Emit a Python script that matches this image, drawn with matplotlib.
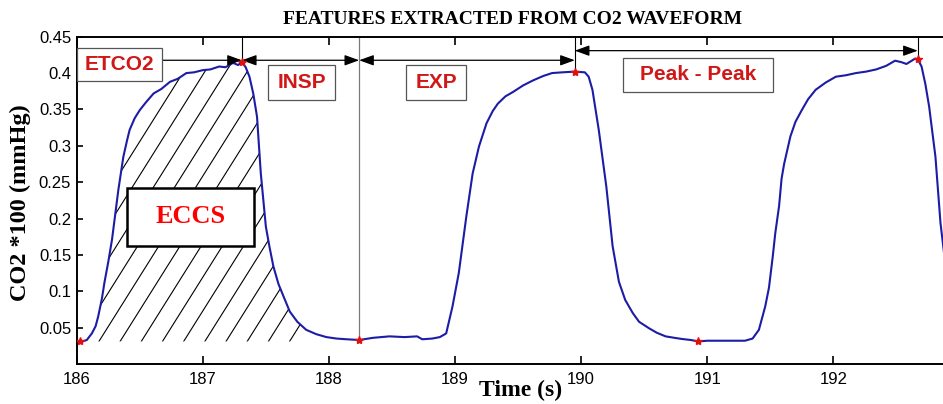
import numpy as np
import matplotlib
matplotlib.use("Agg")
import matplotlib.pyplot as plt
from matplotlib.patches import Rectangle, Polygon

# ---- data ----
time_s = [186.00, 186.03, 186.08, 186.12, 186.15, 186.17, 186.20, 186.22, 186.25, 186.28,
          186.33, 186.37, 186.40, 186.42, 186.46, 186.50, 186.55, 186.61, 186.67, 186.74,
          186.80, 186.87, 186.93, 187.00, 187.06, 187.13, 187.18, 187.24, 187.28, 187.31,
          187.34, 187.37, 187.40, 187.43, 187.46, 187.50, 187.53, 187.56, 187.60, 187.64,
          187.69, 187.75, 187.82, 187.90, 187.98, 188.06, 188.14, 188.24, 188.35, 188.48,
          188.60, 188.70, 188.74, 188.82, 188.88, 188.93, 188.98, 189.03, 189.09, 189.14,
          189.19, 189.25, 189.30, 189.34, 189.40, 189.46, 189.54, 189.62, 189.70, 189.77,
          189.85, 189.95, 190.03, 190.06, 190.09, 190.14, 190.20, 190.25, 190.30, 190.35,
          190.41, 190.46, 190.54, 190.60, 190.67, 190.74, 190.80, 190.87, 190.93, 191.00,
          191.10, 191.20, 191.30, 191.36, 191.41, 191.46, 191.49, 191.52, 191.54, 191.57,
          191.59, 191.61, 191.66, 191.70, 191.75, 191.80, 191.86, 191.94, 192.02, 192.10,
          192.18, 192.26, 192.34, 192.42, 192.49, 192.54, 192.58, 192.65, 192.67, 192.70,
          192.73, 192.76, 192.81, 192.85, 192.88]
co2 = [0.031, 0.030, 0.033, 0.042, 0.052, 0.065, 0.090, 0.112, 0.140, 0.171,
       0.239, 0.285, 0.308, 0.322, 0.338, 0.349, 0.360, 0.372, 0.378, 0.388,
       0.392, 0.400, 0.401, 0.404, 0.405, 0.409, 0.408, 0.414, 0.411, 0.415,
       0.408, 0.395, 0.372, 0.340, 0.262, 0.189, 0.160, 0.134, 0.110, 0.093,
       0.072, 0.058, 0.047, 0.041, 0.037, 0.035, 0.034, 0.033, 0.036, 0.038,
       0.037, 0.038, 0.034, 0.035, 0.037, 0.042, 0.079, 0.125, 0.203, 0.262,
       0.299, 0.331, 0.348, 0.358, 0.368, 0.374, 0.383, 0.390, 0.396, 0.400,
       0.401, 0.402, 0.401, 0.395, 0.377, 0.322, 0.244, 0.162, 0.113, 0.088,
       0.070, 0.058, 0.049, 0.043, 0.038, 0.036, 0.0344, 0.033, 0.031, 0.032,
       0.032, 0.032, 0.032, 0.035, 0.047, 0.079, 0.105, 0.148, 0.180, 0.217,
       0.255, 0.275, 0.313, 0.333, 0.349, 0.364, 0.377, 0.387, 0.395, 0.397,
       0.400, 0.402, 0.405, 0.410, 0.417, 0.415, 0.4125, 0.420, 0.419, 0.409,
       0.385, 0.354, 0.285, 0.194, 0.150]

feature_t = [186.03, 187.31, 188.24, 189.95, 190.93, 192.67]
feature_v = [0.031, 0.415, 0.033, 0.402, 0.031, 0.419]

x_ticks = [186, 187, 188, 189, 190, 191, 192]
y_ticks = [0.05, 0.1, 0.15, 0.2, 0.25, 0.3, 0.35, 0.4, 0.45]
y_ticklabels = ["0.05", "0.1", "0.15", "0.2", "0.25", "0.3", "0.35", "0.4", "0.45"]

title = "FEATURES EXTRACTED FROM CO2 WAVEFORM"
xlabel = "Time (s)"
ylabel = "CO2 *100 (mmHg)"

# ---- figure ----
fig = plt.figure(figsize=(9.43, 4.04), dpi=100)
ax = fig.add_axes([76.7 / 943, 40 / 404, 1 - 76.7 / 943, (364 - 36.7) / 404])
ax.set_xlim(186, 192.87)
ax.set_ylim(0, 0.45)

t = np.array(time_s)
v = np.array(co2)

# hatched ECCS region
mask = (t >= 186.08) & (t <= 187.82)
tt = t[mask]
vv = v[mask]
base = 0.031
verts = [(tt[0], base)] + list(zip(tt, vv)) + [(tt[-1], base)]
poly = Polygon(verts, closed=True, facecolor="none", edgecolor="none")
ax.add_patch(poly)
slope = 0.276  # data units per second (~58 deg on screen)
for t0 in np.arange(185.0, 188.0, 0.168):
    ln, = ax.plot([t0, t0 + (0.45 - base) / slope], [base, 0.45], color="black", lw=0.8, zorder=1)
    ln.set_clip_path(poly)

ax.plot(t, v, color="#1c1ca6", lw=1.5, zorder=3)
ax.plot(feature_t, feature_v, linestyle="none", marker="*", color="#e01010", ms=6, zorder=4)

# vertical guide lines
ax.plot([187.31, 187.31], [0.45, 0.415], color="black", lw=0.8)
ax.plot([188.24, 188.24], [0.45, 0.033], color="#7a7a7a", lw=0.9)
ax.plot([189.95, 189.95], [0.45, 0.402], color="black", lw=0.8)
ax.plot([192.67, 192.67], [0.45, 0.419], color="black", lw=0.8)

ap = dict(color="black", lw=0.9, shrinkA=0, shrinkB=0, mutation_scale=8)
ax.annotate("", xy=(187.31, 0.4176), xytext=(186.0, 0.4176),
            arrowprops=dict(arrowstyle="-|>,head_length=1.1,head_width=0.4", **ap))
for (a, b, y) in [(187.31, 188.24, 0.4176), (188.24, 189.95, 0.4176), (189.95, 192.67, 0.4308)]:
    ax.annotate("", xy=(b, y), xytext=(a, y),
                arrowprops=dict(arrowstyle="<|-|>,head_length=1.1,head_width=0.4", **ap))

# label boxes
def box(x0, x1, y0, y1, text, color, fam, size, ec="#555555", lw=0.9):
    ax.add_patch(Rectangle((x0, y0), x1 - x0, y1 - y0, facecolor="white",
                           edgecolor=ec, lw=lw, zorder=5))
    ax.text((x0 + x1) / 2, (y0 + y1) / 2, text, color=color, family=fam, weight="bold",
            fontsize=size, ha="center", va="center", zorder=6)

box(186.0, 186.68, 0.389, 0.4345, "ETCO2", "#d01818", "Liberation Sans", 15)
box(187.52, 188.05, 0.363, 0.411, "INSP", "#d01818", "Liberation Sans", 15)
box(188.61, 189.09, 0.363, 0.411, "EXP", "#d01818", "Liberation Sans", 15)
box(190.33, 191.52, 0.374, 0.4207, "Peak - Peak", "#d01818", "Liberation Sans", 15)
box(186.40, 187.41, 0.1625, 0.2422, "ECCS", "#ff0000", "Liberation Serif", 19,
    ec="black", lw=1.8)

# axes styling
ax.set_xticks(x_ticks)
ax.set_xticklabels([str(x) for x in x_ticks])
ax.set_yticks(y_ticks)
ax.set_yticklabels(y_ticklabels)
ax.tick_params(axis="x", direction="in", length=6, width=1.2, top=True, pad=6,
               labelsize=12)
ax.tick_params(axis="y", direction="in", length=4, width=1.2, right=False, pad=4,
               labelsize=12)
for lab in ax.get_xticklabels() + ax.get_yticklabels():
    lab.set_family("Liberation Sans")
for s in ["top", "bottom", "left"]:
    ax.spines[s].set_linewidth(1.4)
ax.spines["right"].set_visible(False)

fig.text(513 / 943, 1 - 19 / 404, title, family="Liberation Serif", weight="bold",
         fontsize=14, ha="center", va="center")
fig.text(521 / 943, 1 - 390 / 404, xlabel, family="Liberation Serif", weight="bold",
         fontsize=17, ha="center", va="center")
fig.text(20 / 943, 1 - 203 / 404, ylabel, family="Liberation Serif", weight="bold",
         fontsize=17.5, ha="center", va="center", rotation=90)

fig.savefig("out.png", dpi=100)
